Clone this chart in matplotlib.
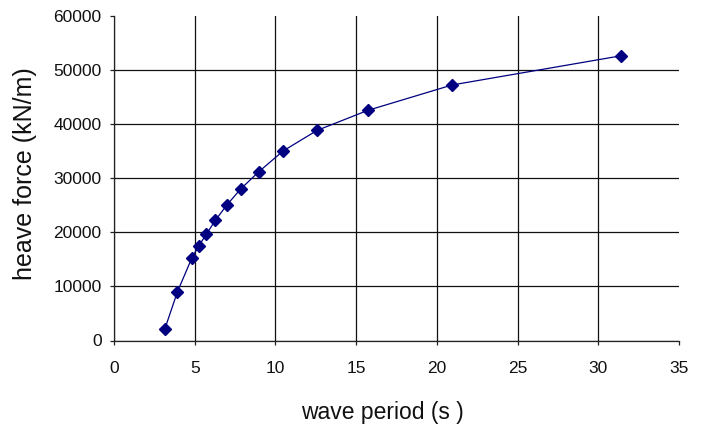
import matplotlib
matplotlib.use("Agg")
import matplotlib.pyplot as plt

# Data
wave_period = [3.14, 3.93, 4.83, 5.24, 5.71, 6.28, 6.98, 7.85, 8.98, 10.47, 12.57, 15.71, 20.94, 31.42]
heave_force = [2050, 9000, 15300, 17400, 19600, 22200, 25000, 28000, 31200, 35000, 38800, 42500, 47200, 52600]
x_ticks = [0, 5, 10, 15, 20, 25, 30, 35]
y_ticks = [0, 10000, 20000, 30000, 40000, 50000, 60000]

plt.rcParams['font.family'] = ['Liberation Sans', 'DejaVu Sans']

W, H = 705, 430
fig = plt.figure(figsize=(W / 100, H / 100), dpi=100)
fig.patch.set_facecolor('white')

left, right = 114 / W, 679 / W
bottom, top = 1 - 340.5 / H, 1 - 15.7 / H
ax = fig.add_axes([left, bottom, right - left, top - bottom])

ax.plot(wave_period, heave_force, color='#000080', linewidth=0.9,
        marker='D', markersize=6.3, markerfacecolor='#000080',
        markeredgecolor='#000080', zorder=3)

ax.set_xlim(0, 35)
ax.set_ylim(0, 60000)
ax.set_xticks(x_ticks)
ax.set_yticks(y_ticks)
ax.set_xticklabels([str(v) for v in x_ticks])
ax.set_yticklabels([str(v) for v in y_ticks])

ax.grid(True, color='#111111', linewidth=0.9)
ax.set_axisbelow(True)
# Excel-style: no gridline on the outer limits
ax.xaxis.get_gridlines()[-1].set_visible(False)
ax.yaxis.get_gridlines()[-1].set_visible(False)

for s in ['top', 'right']:
    ax.spines[s].set_visible(False)
for s in ['left', 'bottom']:
    ax.spines[s].set_color('#222222')
    ax.spines[s].set_linewidth(0.9)

ax.tick_params(axis='both', direction='out', length=3, width=0.9,
               color='#222222', labelsize=12.5, labelcolor='#111111')
ax.tick_params(axis='y', pad=6)
ax.tick_params(axis='x', pad=12)

ax.set_xlabel('wave period (s )', fontsize=16.5, color='#111111',
              va='center', ha='center')
ax.xaxis.set_label_coords((382 - 114) / 565, (340.5 - 413) / 325)
ax.set_ylabel('heave force (kN/m)', fontsize=18, color='#111111',
              va='center', ha='center')
ax.yaxis.set_label_coords((24.5 - 114) / 565, (340.5 - 173.5) / 325)

fig.savefig('out.png', dpi=100, facecolor='white')
